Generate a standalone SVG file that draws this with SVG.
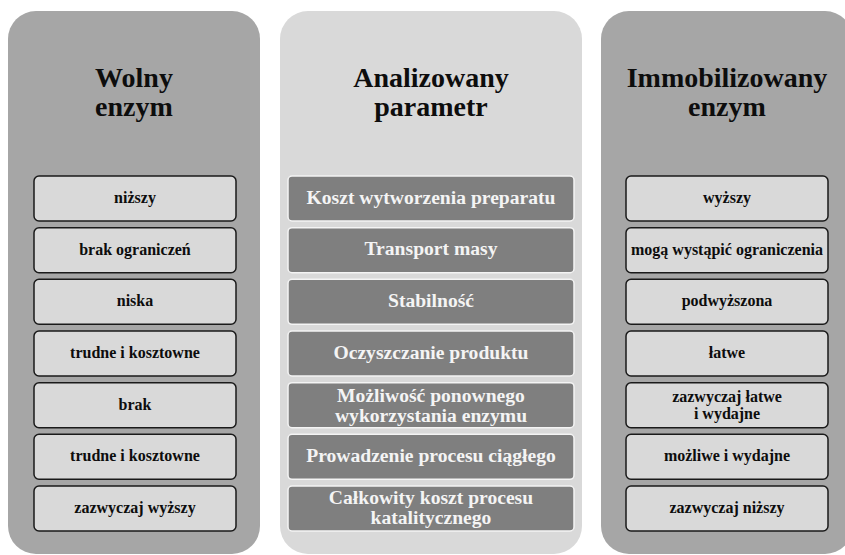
<svg xmlns="http://www.w3.org/2000/svg" width="845" height="555" viewBox="0 0 845 555">
<style>
  .side { fill: #a6a6a6; }
  .mid { fill: #d9d9d9; }
  .title { font-family: "Liberation Serif", "Times New Roman", serif; font-weight: bold; font-size: 28px; fill: #0d0d0d; text-anchor: middle; }
  .vbox { fill: #d9d9d9; stroke: #1a1a1a; stroke-width: 1.5; }
  .pbox { fill: #7f7f7f; stroke: #f4f4f4; stroke-width: 1.5; }
  .vt { font-family: "Liberation Serif", "Times New Roman", serif; font-weight: bold; font-size: 16px; fill: #0d0d0d; text-anchor: middle; }
  .pt { font-family: "Liberation Serif", "Times New Roman", serif; font-weight: bold; font-size: 19.6px; fill: #f4f4f4; text-anchor: middle; }
</style>
<rect width="845" height="555" fill="#ffffff"/>

<g id="panel-wolny">
  <rect class="side" x="8" y="11" width="252" height="543" rx="28" ry="28"/>
  <text class="title" x="134" y="87">Wolny</text>
  <text class="title" x="134" y="116">enzym</text>
</g>
<g id="panel-parametr">
  <rect class="mid" x="280" y="11" width="302" height="543" rx="28" ry="28"/>
  <text class="title" x="431" y="87">Analizowany</text>
  <text class="title" x="431" y="116">parametr</text>
</g>
<g id="panel-immobilizowany">
  <rect class="side" x="601" y="11" width="252" height="543" rx="28" ry="28"/>
  <text class="title" x="727" y="87">Immobilizowany</text>
  <text class="title" x="727" y="116">enzym</text>
</g>

<g id="wolny-1"><rect class="vbox" x="34" y="176" width="202" height="45" rx="5"/><text class="vt" x="135" y="203">niższy</text></g>
<g id="wolny-2"><rect class="vbox" x="34" y="227.7" width="202" height="45" rx="5"/><text class="vt" x="135" y="254.7">brak ograniczeń</text></g>
<g id="wolny-3"><rect class="vbox" x="34" y="279.3" width="202" height="45" rx="5"/><text class="vt" x="135" y="306.3">niska</text></g>
<g id="wolny-4"><rect class="vbox" x="34" y="331" width="202" height="45" rx="5"/><text class="vt" x="135" y="358">trudne i kosztowne</text></g>
<g id="wolny-5"><rect class="vbox" x="34" y="382.7" width="202" height="45" rx="5"/><text class="vt" x="135" y="409.7">brak</text></g>
<g id="wolny-6"><rect class="vbox" x="34" y="434.3" width="202" height="45" rx="5"/><text class="vt" x="135" y="461.3">trudne i kosztowne</text></g>
<g id="wolny-7"><rect class="vbox" x="34" y="486" width="202" height="45" rx="5"/><text class="vt" x="135" y="513">zazwyczaj wyższy</text></g>

<g id="param-1"><rect class="pbox" x="288" y="176" width="286" height="45" rx="4"/><text class="pt" x="431" y="203.5">Koszt wytworzenia preparatu</text></g>
<g id="param-2"><rect class="pbox" x="288" y="227.7" width="286" height="45" rx="4"/><text class="pt" x="431" y="255.2">Transport masy</text></g>
<g id="param-3"><rect class="pbox" x="288" y="279.3" width="286" height="45" rx="4"/><text class="pt" x="431" y="306.8">Stabilność</text></g>
<g id="param-4"><rect class="pbox" x="288" y="331" width="286" height="45" rx="4"/><text class="pt" x="431" y="358.5">Oczyszczanie produktu</text></g>
<g id="param-5"><rect class="pbox" x="288" y="382.7" width="286" height="45" rx="4"/><text class="pt" x="431" y="401.5">Możliwość ponownego</text><text class="pt" x="431" y="421.5">wykorzystania enzymu</text></g>
<g id="param-6"><rect class="pbox" x="288" y="434.3" width="286" height="45" rx="4"/><text class="pt" x="431" y="461.8">Prowadzenie procesu ciągłego</text></g>
<g id="param-7"><rect class="pbox" x="288" y="486" width="286" height="45" rx="4"/><text class="pt" x="431" y="503.5">Całkowity koszt procesu</text><text class="pt" x="431" y="523.5">katalitycznego</text></g>

<g id="immob-1"><rect class="vbox" x="626" y="176" width="202" height="45" rx="5"/><text class="vt" x="727" y="203">wyższy</text></g>
<g id="immob-2"><rect class="vbox" x="626" y="227.7" width="202" height="45" rx="5"/><text class="vt" x="727" y="254.7">mogą wystąpić ograniczenia</text></g>
<g id="immob-3"><rect class="vbox" x="626" y="279.3" width="202" height="45" rx="5"/><text class="vt" x="727" y="306.3">podwyższona</text></g>
<g id="immob-4"><rect class="vbox" x="626" y="331" width="202" height="45" rx="5"/><text class="vt" x="727" y="358">łatwe</text></g>
<g id="immob-5"><rect class="vbox" x="626" y="382.7" width="202" height="45" rx="5"/><text class="vt" x="727" y="401.5">zazwyczaj łatwe</text><text class="vt" x="727" y="419.3">i wydajne</text></g>
<g id="immob-6"><rect class="vbox" x="626" y="434.3" width="202" height="45" rx="5"/><text class="vt" x="727" y="461.3">możliwe i wydajne</text></g>
<g id="immob-7"><rect class="vbox" x="626" y="486" width="202" height="45" rx="5"/><text class="vt" x="727" y="513">zazwyczaj niższy</text></g>

<g id="connectors"></g>
</svg>
